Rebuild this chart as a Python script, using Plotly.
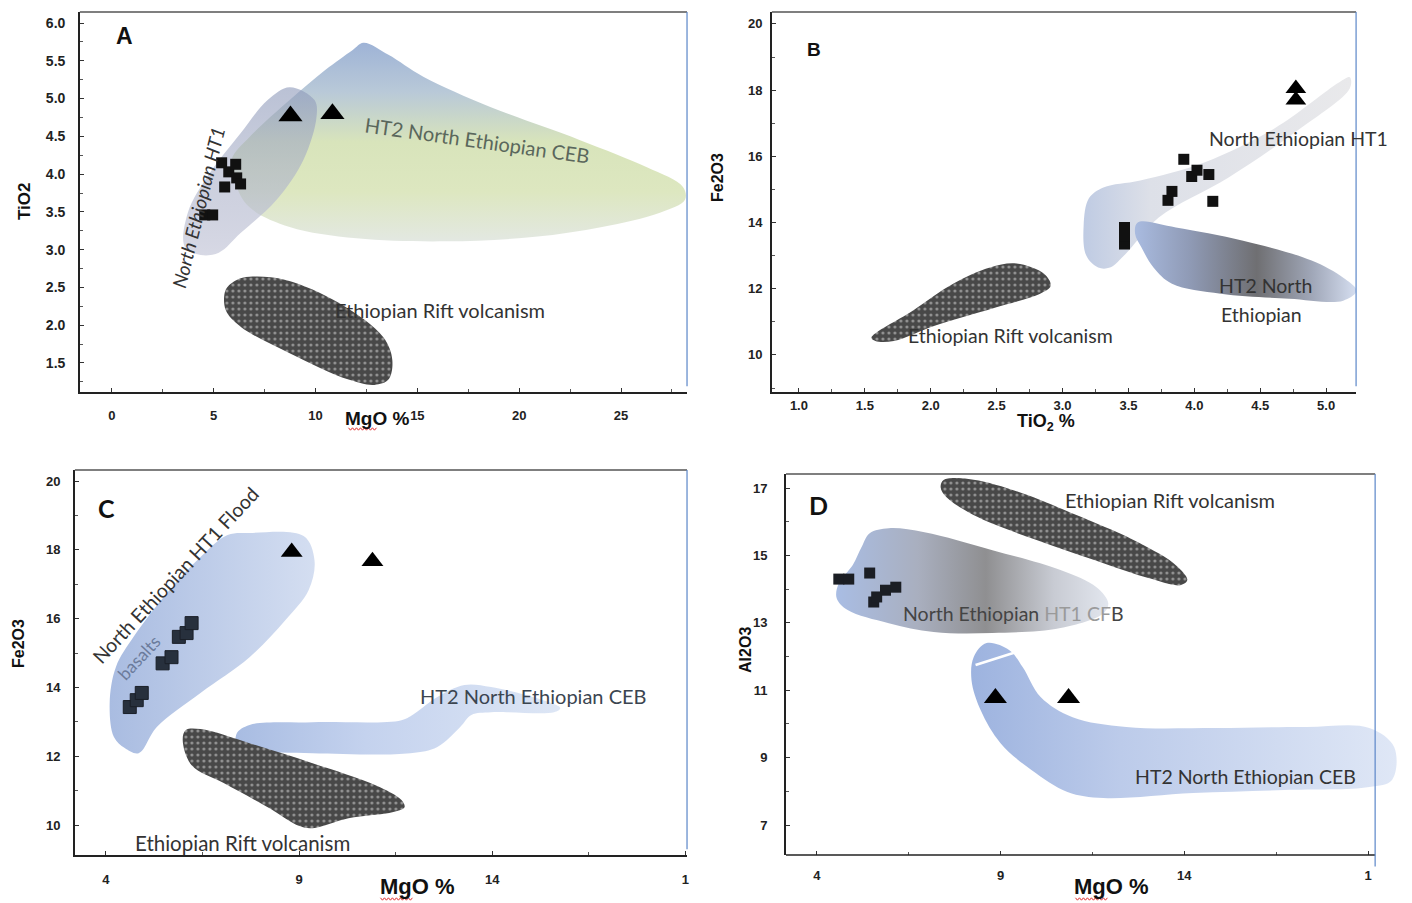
import plotly.graph_objects as go

# ======================= DATA =======================
# Panel A : MgO % vs TiO2
A_sq_mgo = [4.56, 4.95, 5.39, 5.74, 5.54, 6.13, 6.08, 6.32]
A_sq_tio2 = [3.46, 3.46, 4.15, 4.03, 3.83, 3.95, 4.13, 3.87]
A_tri_mgo = [8.77, 10.83]
A_tri_tio2 = [4.77, 4.80]
A_ht2_x = [12.35, 13.58, 15.29, 18.58, 22.99, 26.27, 28.04, 28.14, 26.91, 24.07, 20.78, 16.42, 12.01, 8.73, 6.76, 6.13, 5.88, 6.76, 8.73, 10.49, 11.81]
A_ht2_y = [5.74, 5.58, 5.29, 4.89, 4.45, 4.09, 3.83, 3.66, 3.49, 3.30, 3.17, 3.11, 3.15, 3.30, 3.56, 3.83, 4.19, 4.49, 4.98, 5.38, 5.64]
A_ht1_x = [8.73, 9.95, 10.05, 9.41, 8.09, 6.32, 5.25, 4.36, 3.58, 3.73, 4.80, 6.32, 7.65]
A_ht1_y = [5.15, 4.98, 4.76, 4.19, 3.66, 3.22, 2.96, 2.93, 3.04, 3.49, 4.01, 4.54, 4.98]
A_rift_x = [6.76, 8.53, 11.18, 13.33, 13.77, 13.58, 12.89, 11.62, 8.73, 6.32, 5.59, 5.59, 6.13]
A_rift_y = [2.64, 2.60, 2.29, 1.84, 1.54, 1.28, 1.21, 1.28, 1.63, 1.98, 2.20, 2.47, 2.60]

# Panel B : TiO2 % vs Fe2O3
B_sq_tio2 = [3.47, 3.47, 3.47, 3.80, 3.83, 3.92, 3.98, 4.02, 4.11, 4.14]
B_sq_fe = [13.35, 13.60, 13.85, 14.67, 14.94, 15.91, 15.39, 15.58, 15.45, 14.64]
B_tri_tio2 = [4.77, 4.77]
B_tri_fe = [17.70, 18.05]
B_ht1_x = [3.27, 3.18, 3.16, 3.20, 3.31, 3.59, 4.08, 4.61, 5.10, 5.18, 5.18, 4.79, 4.26, 3.73, 3.48, 3.36]
B_ht1_y = [12.64, 13.00, 13.91, 14.73, 15.06, 15.27, 15.82, 16.85, 18.24, 18.39, 18.06, 16.80, 15.36, 14.15, 13.06, 12.64]
B_ht2_x = [3.57, 3.86, 4.37, 4.89, 5.13, 5.23, 5.13, 4.72, 4.20, 3.83, 3.69, 3.60, 3.55]
B_ht2_y = [14.00, 13.85, 13.45, 12.85, 12.33, 11.94, 11.64, 11.70, 11.85, 12.15, 12.64, 13.24, 13.67]
B_rift_x = [1.55, 1.86, 2.17, 2.45, 2.65, 2.86, 2.91, 2.83, 2.48, 2.03, 1.72, 1.58]
B_rift_y = [10.52, 11.33, 12.15, 12.64, 12.76, 12.45, 12.09, 11.85, 11.42, 10.88, 10.42, 10.42]

# Panel C : MgO % vs Fe2O3
C_sq_mgo = [4.62, 4.80, 4.93, 5.47, 5.70, 5.89, 6.09, 6.22]
C_sq_fe = [13.43, 13.63, 13.84, 14.70, 14.88, 15.47, 15.58, 15.87]
C_tri_mgo = [8.81, 10.90]
C_tri_fe = [17.94, 17.67]
C_ht1_x = [7.15, 7.72, 9.12, 9.40, 9.25, 8.65, 7.72, 6.45, 5.32, 4.85, 4.49, 4.21, 4.10, 4.26, 4.72, 5.65, 6.45]
C_ht1_y = [18.43, 18.49, 18.40, 17.70, 16.83, 15.96, 14.88, 13.84, 12.85, 12.09, 12.24, 12.56, 13.55, 14.59, 15.47, 16.83, 17.79]
C_ht2_x = [7.39, 7.72, 9.35, 11.65, 12.01, 12.58, 13.28, 13.97, 15.14, 15.76, 15.60, 13.97, 13.46, 13.17, 12.58, 11.88, 9.35, 7.72, 7.39]
C_ht2_y = [12.67, 12.91, 12.99, 13.05, 13.26, 13.72, 14.07, 14.01, 13.69, 13.40, 13.28, 13.28, 13.20, 12.85, 12.27, 12.09, 12.09, 12.18, 12.38]
C_rift_x = [6.07, 6.45, 7.72, 9.35, 10.98, 11.65, 11.73, 11.44, 10.28, 9.35, 9.01, 8.19, 7.05, 6.22, 5.99]
C_rift_y = [12.76, 12.79, 12.38, 11.80, 11.16, 10.73, 10.52, 10.38, 10.20, 9.91, 9.97, 10.52, 11.22, 11.74, 12.47]

# Panel D : MgO % vs Al2O3
D_sq_mgo = [4.60, 4.87, 5.44, 5.55, 5.63, 5.87, 6.15]
D_sq_al = [14.30, 14.30, 14.48, 13.62, 13.77, 13.97, 14.06]
D_tri_mgo = [8.86, 10.85]
D_tri_al = [10.77, 10.77]
D_ht1_x = [5.44, 5.96, 6.93, 8.78, 10.63, 11.61, 11.93, 11.80, 10.63, 8.78, 7.18, 5.96, 4.84, 4.54, 4.60, 4.98, 5.22]
D_ht1_y = [15.66, 15.81, 15.69, 15.16, 14.57, 14.06, 13.59, 13.29, 12.85, 12.70, 12.73, 12.99, 13.38, 13.74, 14.18, 14.72, 15.25]
D_rift_x = [7.45, 8.13, 9.35, 11.20, 12.78, 13.76, 14.08, 13.89, 13.02, 11.80, 9.98, 8.38, 7.53, 7.37]
D_rift_y = [17.24, 17.27, 16.94, 16.14, 15.37, 14.72, 14.27, 14.12, 14.33, 14.77, 15.46, 16.14, 16.73, 17.03]
D_ht2_x = [8.62, 9.24, 9.60, 10.09, 10.96, 12.42, 14.87, 17.32, 19.03, 19.71, 19.65, 19.03, 16.72, 14.24, 11.80, 10.82, 9.84, 9.00, 8.46, 8.21, 8.27]
D_ht2_y = [12.40, 12.19, 11.69, 10.80, 10.20, 9.91, 9.88, 9.91, 9.88, 9.31, 8.34, 8.13, 8.04, 7.95, 7.80, 7.98, 8.63, 9.43, 10.41, 11.30, 11.99]
D_streak_x = [8.32, 9.41]
D_streak_y = [11.75, 12.13]

# ======================= FIGURE =======================
W, H = 1412, 903


def P(x, y):
    return x / W, 1 - y / H


fig = go.Figure()


def region(x, y, xa, ya, **kw):
    fig.add_trace(go.Scatter(
        x=list(x) + [x[0]], y=list(y) + [y[0]], mode='lines', fill='toself',
        line=dict(width=0, shape='spline', smoothing=1.0), hoverinfo='skip',
        showlegend=False, xaxis=xa, yaxis=ya, **kw))


def dotted(x, y, xa, ya):
    region(x, y, xa, ya, fillcolor='#4a4a4a',
           fillpattern=dict(shape='.', bgcolor='#484848', fgcolor='#dcdcdc',
                            size=6, solidity=0.22))


def grad(kind, scale):
    return dict(type=kind, colorscale=scale)


def pts(x, y, xa, ya, symbol, size, color, lw=0, lc='#000'):
    fig.add_trace(go.Scatter(x=x, y=y, mode='markers', xaxis=xa, yaxis=ya,
                             showlegend=False, hoverinfo='skip',
                             marker=dict(symbol=symbol, size=size, color=color,
                                         line=dict(width=lw, color=lc))))


# ---- Panel A ----
region(A_ht2_x, A_ht2_y, 'x', 'y',
       fillgradient=grad('vertical', [[0, '#e3e8e2'], [0.25, '#dde7c0'], [0.5, '#d8e4bb'],
                                      [0.75, '#b9c9d8'], [1, '#9eb3d6']]))
region(A_ht1_x, A_ht1_y, 'x', 'y',
       fillgradient=grad('vertical', [[0, 'rgba(205,207,222,0.8)'], [0.5, 'rgba(170,176,200,0.6)'],
                                      [1, 'rgba(140,152,185,0.6)']]))
dotted(A_rift_x, A_rift_y, 'x', 'y')
pts(A_sq_mgo, A_sq_tio2, 'x', 'y', 'square', 11, '#111')
pts(A_tri_mgo, A_tri_tio2, 'x', 'y', 'triangle-up', 21, '#000')

# ---- Panel B ----
region(B_ht1_x, B_ht1_y, 'x2', 'y2',
       fillgradient=grad('horizontal', [[0, '#bfcbe3'], [0.25, '#dde0e8'], [1, '#e9e9eb']]))
region(B_ht2_x, B_ht2_y, 'x2', 'y2',
       fillgradient=grad('horizontal', [[0, '#a9bbe0'], [0.25, '#8f9ab5'], [0.55, '#6f6f72'],
                                        [0.8, '#a0a7b8'], [1, '#d5def0']]))
dotted(B_rift_x, B_rift_y, 'x2', 'y2')
pts(B_sq_tio2, B_sq_fe, 'x2', 'y2', 'square', 11, '#111')
pts(B_tri_tio2, B_tri_fe, 'x2', 'y2', 'triangle-up', 18, '#000')

# ---- Panel C ----
region(C_ht1_x, C_ht1_y, 'x3', 'y3',
       fillgradient=grad('horizontal', [[0, '#a9bce1'], [1, '#d4def1']]))
region(C_ht2_x, C_ht2_y, 'x3', 'y3',
       fillgradient=grad('horizontal', [[0, '#a8bce2'], [0.4, '#c4d2ee'], [1, '#dde6f5']]))
dotted(C_rift_x, C_rift_y, 'x3', 'y3')
pts(C_sq_mgo, C_sq_fe, 'x3', 'y3', 'square', 13, '#27303d', 1, '#1a1f28')
pts(C_tri_mgo, C_tri_fe, 'x3', 'y3', 'triangle-up', 19, '#000')

# ---- Panel D ----
region(D_ht1_x, D_ht1_y, 'x4', 'y4',
       fillgradient=grad('horizontal', [[0, '#a9bde4'], [0.3, '#a9afbf'], [0.55, '#8f8f91'],
                                        [0.8, '#c8cbd3'], [1, '#e2e6ee']]))
dotted(D_rift_x, D_rift_y, 'x4', 'y4')
region(D_ht2_x, D_ht2_y, 'x4', 'y4',
       fillgradient=grad('horizontal', [[0, '#9db3df'], [0.35, '#bccbea'], [1, '#dfe7f6']]))
fig.add_trace(go.Scatter(x=D_streak_x, y=D_streak_y, mode='lines', xaxis='x4', yaxis='y4',
                         line=dict(color='white', width=2.5), showlegend=False, hoverinfo='skip'))
pts(D_sq_mgo, D_sq_al, 'x4', 'y4', 'square', 11, '#1b1e24')
pts(D_tri_mgo, D_tri_al, 'x4', 'y4', 'triangle-up', 20, '#000')

# ======================= AXES =======================
def tf(size):
    return dict(family='Liberation Sans', size=size, color='#222', weight='bold')


def xax(d, r, anchor, standoff, size=13, showline=True, **kw):
    return dict(domain=[d[0] / W, d[1] / W], range=list(r), anchor=anchor, ticks='inside',
                ticklen=4, tickcolor='#333', showline=showline, linecolor='#222', linewidth=1.5,
                showgrid=False, zeroline=False, tickfont=tf(size),
                ticklabelstandoff=standoff, **kw)


def yax(d, r, anchor, standoff, size=13, **kw):
    return dict(domain=[1 - d[1] / H, 1 - d[0] / H], range=list(r), anchor=anchor, ticks='inside',
                ticklen=4, tickcolor='#333', showline=True, linecolor='#222', linewidth=1.5,
                showgrid=False, zeroline=False, tickfont=tf(size),
                ticklabelstandoff=standoff, **kw)


minor = lambda t0, dt: dict(tick0=t0, dtick=dt, ticks='inside', ticklen=3, tickcolor='#555')

fig.update_layout(
    width=W, height=H, margin=dict(l=0, r=0, t=0, b=0),
    paper_bgcolor='white', plot_bgcolor='white', showlegend=False,
    xaxis=xax((80, 688), (-1.57, 28.24), 'y', 11, 13, tick0=0, dtick=5, minor=minor(0, 2.5)),
    yaxis=yax((12, 392), (1.116, 6.146), 'x', 10, 14, tick0=1.5, dtick=0.5, tickformat='.1f',
              minor=minor(1.5, 0.25)),
    xaxis2=xax((773, 1358), (0.795, 5.227), 'y2', 1, 13, tick0=1, dtick=0.5, tickformat='.1f',
               minor=minor(1, 0.25)),
    yaxis2=yax((12, 392), (8.88, 20.36), 'x2', 5, 13, tick0=10, dtick=2, minor=minor(10, 1)),
    xaxis3=xax((75, 688), (3.2, 19.04), 'y3', 12, 13, tickmode='array', tickvals=[4, 9, 14, 19],
               ticktext=['4', '9', '14', '1'], minor=minor(4, 2.5)),
    yaxis3=yax((470, 855), (9.13, 20.32), 'x3', 10, 13, tick0=10, dtick=2, minor=minor(10, 1)),
    xaxis4=xax((787, 1408), (3.16, 20.03), 'y4', 11, 13, showline=False, tickmode='array',
               tickvals=[4, 9, 14, 19], ticktext=['4', '9', '14', '1'], minor=minor(4, 2.5)),
    yaxis4=yax((474, 855), (6.11, 17.42), 'x4', 14, 13, tick0=7, dtick=2, minor=minor(7, 1)),
)

# frame lines (top grey, right blue)
shapes = []
for xa in ['x', 'x2', 'x3']:
    ya = xa.replace('x', 'y')
    shapes.append(dict(type='line', xref=xa + ' domain', yref=ya + ' domain', x0=0, x1=1, y0=1, y1=1,
                       line=dict(color='#555', width=1.5)))
    shapes.append(dict(type='line', xref=xa + ' domain', yref=ya + ' domain', x0=1, x1=1, y0=0.015, y1=1,
                       line=dict(color='#5b86c8', width=1.2)))
D_right = 19.19
shapes.append(dict(type='line', xref='x4', yref='y4 domain', x0=3.16, x1=D_right, y0=0, y1=0,
                   line=dict(color='#222', width=1.5)))
shapes.append(dict(type='line', xref='x4', yref='y4 domain', x0=3.16, x1=D_right, y0=1, y1=1,
                   line=dict(color='#555', width=1.5)))
shapes.append(dict(type='line', xref='x4', yref='y4 domain', x0=D_right, x1=D_right, y0=-0.03, y1=1,
                   line=dict(color='#5b86c8', width=1.2)))


# red spell-check squiggles under "MgO"
def squiggle(x0, x1, y):
    path, k, xx = '', 0, x0
    while xx <= x1:
        px_, py_ = P(xx, y + (1.2 if k % 2 else -1.2))
        path += ('M' if k == 0 else 'L') + f'{px_:.5f},{py_:.5f} '
        xx += 2
        k += 1
    return dict(type='path', xref='paper', yref='paper', path=path,
                line=dict(color='#e03030', width=1))


shapes += [squiggle(349, 377, 429), squiggle(381, 413, 899), squiggle(1077, 1109, 899)]
fig.update_layout(shapes=shapes)

# ======================= TEXT =======================
ann = []


def T(text, x, y, size=20, color='#333', angle=0, family='Lato', bold=False, italic=False):
    ax, ay = P(x, y)
    f = dict(family=family, size=size, color=color)
    if bold:
        f['weight'] = 'bold'
    if italic:
        f['style'] = 'italic'
    ann.append(dict(text=text, x=ax, y=ay, xref='paper', yref='paper', showarrow=False,
                    xanchor='center', yanchor='middle', textangle=angle, font=f))


AX = 'Liberation Sans'
# Panel letters
T('A', 125, 36, 23, '#111', family=AX, bold=True)
T('B', 815, 50, 19, '#111', family=AX, bold=True)
T('C', 107, 508, 25, '#111', bold=True)
T('D', 820, 505, 25, '#111', bold=True)
# Axis titles
T('TiO2', 24, 201, 17, '#111', -90, AX, True)
T('MgO %', 378, 418, 19, '#111', 0, AX, True)
T('Fe2O3', 718, 177, 16, '#111', -90, AX, True)
T('TiO<sub>2</sub> %', 1047, 422, 18, '#111', 0, AX, True)
T('Fe2O3', 18, 643, 16, '#111', -90, AX, True)
T('MgO %', 418, 886, 22, '#111', 0, AX, True)
T('Al2O3', 746, 650, 16, '#111', -90, AX, True)
T('MgO %', 1113, 886, 22, '#111', 0, AX, True)
# Panel A labels
T('HT2 North Ethiopian CEB', 478, 140, 20, '#5a675c', 8)
T('North Ethiopian HT1', 198, 207, 19, '#333', -76, italic=True)
T('Ethiopian Rift volcanism', 441, 310, 20, '#333')
# Panel B labels
T('North Ethiopian HT1', 1300, 138, 19.5, '#333')
T('HT2 North', 1267, 286, 19.5, '#333')
T('Ethiopian', 1263, 315, 19.5, '#333')
T('Ethiopian Rift volcanism', 1012, 335, 19.5, '#333')
# Panel C labels
T('North Ethiopian HT1 Flood', 175, 575, 19.5, '#333', -47)
T('basalts', 139, 657, 17.5, '#6b7b9b', -47)
T('HT2 North Ethiopian CEB', 534, 696, 20, '#3b4550')
T('Ethiopian Rift volcanism', 243, 843, 20.5, '#333')
# Panel D labels
T('Ethiopian Rift volcanism', 1172, 500, 20, '#333')
T("North Ethiopian <span style='color:#9a9a9a'>HT1 CF</span>B", 1015, 613, 19.5, '#444')
T('HT2 North Ethiopian CEB', 1247, 776, 19.5, '#333')

fig.update_layout(annotations=ann)
fig.write_html('out.html')
